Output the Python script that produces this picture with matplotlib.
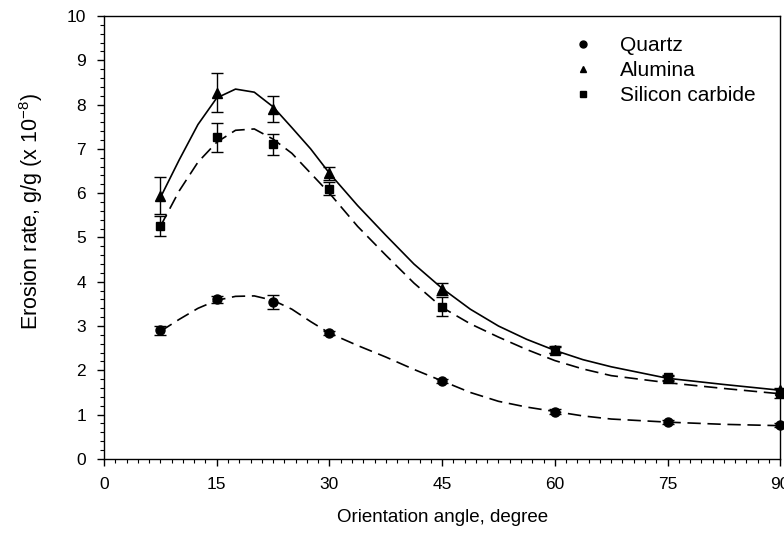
#!/usr/bin/env python
'''Erosion rate versus orientation angle for three abrasives'''

import numpy as np
import matplotlib
matplotlib.use('Agg')
from matplotlib.pyplot import figure
from matplotlib.lines import Line2D
from matplotlib.ticker import MultipleLocator

# measured points
angle = [7.5, 15, 22.5, 30, 45, 60, 75, 90]
quartz = [2.90, 3.60, 3.54, 2.84, 1.76, 1.07, 0.83, 0.76]
quartz_err = [0.10, 0.08, 0.15, 0.05, 0.05, 0.05, 0.04, 0.04]
alumina = [5.94, 8.27, 7.90, 6.45, 3.83, 2.46, 1.82, 1.55]
alumina_err = [0.42, 0.44, 0.30, 0.15, 0.14, 0.08, 0.06, 0.06]
sic = [5.26, 7.26, 7.10, 6.10, 3.44, 2.46, 1.84, 1.48]
sic_err = [0.22, 0.33, 0.23, 0.15, 0.22, 0.07, 0.06, 0.10]

# fitted curves
fit_angle = [7.5, 10, 12.5, 15, 17.5, 20, 22.5, 25, 27.5, 30, 33.75, 37.5, 41.25, 45,
             48.75, 52.5, 56.25, 60, 63.75, 67.5, 75, 82.5, 90]
quartz_fit = [2.88, 3.15, 3.40, 3.58, 3.67, 3.68, 3.58, 3.38, 3.10, 2.84, 2.56, 2.30, 2.02, 1.76,
              1.50, 1.30, 1.17, 1.07, 0.97, 0.90, 0.83, 0.78, 0.75]
alumina_fit = [5.90, 6.75, 7.55, 8.15, 8.35, 8.28, 7.95, 7.48, 7.00, 6.45, 5.72, 5.05, 4.40, 3.85,
               3.38, 3.00, 2.70, 2.45, 2.24, 2.08, 1.82, 1.68, 1.55]
sic_fit = [5.25, 6.05, 6.70, 7.15, 7.42, 7.45, 7.22, 6.90, 6.45, 6.00, 5.25, 4.60, 3.97, 3.42,
           3.05, 2.75, 2.47, 2.22, 2.03, 1.88, 1.72, 1.59, 1.47]

labels = ['Quartz', 'Alumina', 'Silicon carbide']
markers = ['o', '^', 's']

matplotlib.rcParams['font.family'] = ['Liberation Sans', 'DejaVu Sans']

fig = figure(figsize=(7.84, 5.45), dpi=100)
ax = fig.add_axes([0.1327, 0.158, 0.8625, 0.8126])

dash = (8, 4)
ax.plot(fit_angle, quartz_fit, color='black', lw=1.2, dashes=dash)
ax.plot(fit_angle, alumina_fit, color='black', lw=1.2)
ax.plot(fit_angle, sic_fit, color='black', lw=1.2, dashes=dash)

for y, e, m in zip([quartz, alumina, sic], [quartz_err, alumina_err, sic_err], markers):
    ax.errorbar(angle, y, yerr=e, fmt=m, color='black', ms=6.5 if m != 's' else 6,
                capsize=4, elinewidth=1.0, capthick=1.0, clip_on=False, zorder=3)

ax.set_xlim(0, 90)
ax.set_ylim(0, 10)
ax.xaxis.set_major_locator(MultipleLocator(15))
ax.xaxis.set_minor_locator(MultipleLocator(1.5))
ax.yaxis.set_major_locator(MultipleLocator(1))
ax.yaxis.set_minor_locator(MultipleLocator(0.2))
ax.tick_params(which='major', direction='out', length=5, width=1, labelsize=12.5, pad=8)
ax.tick_params(which='minor', direction='out', length=3, width=0.8)
for s in ax.spines.values():
    s.set_linewidth(1.0)

ax.set_xlabel('Orientation angle, degree', fontsize=13.5, labelpad=12)
ax.set_ylabel(r'Erosion rate, g/g (x 10$^{\mathregular{-8}}$)', fontsize=15.5)
ax.yaxis.set_label_coords(-0.087, 0.56)

handles = [Line2D([], [], color='black', marker=m, ls='none', ms=5) for m in markers]
ax.legend(handles, labels, loc='upper left', bbox_to_anchor=(0.677, 0.955), frameon=False,
          fontsize=15, handletextpad=0.78, labelspacing=0.3, borderpad=0, borderaxespad=0)

fig.savefig('out.png', dpi=100)
